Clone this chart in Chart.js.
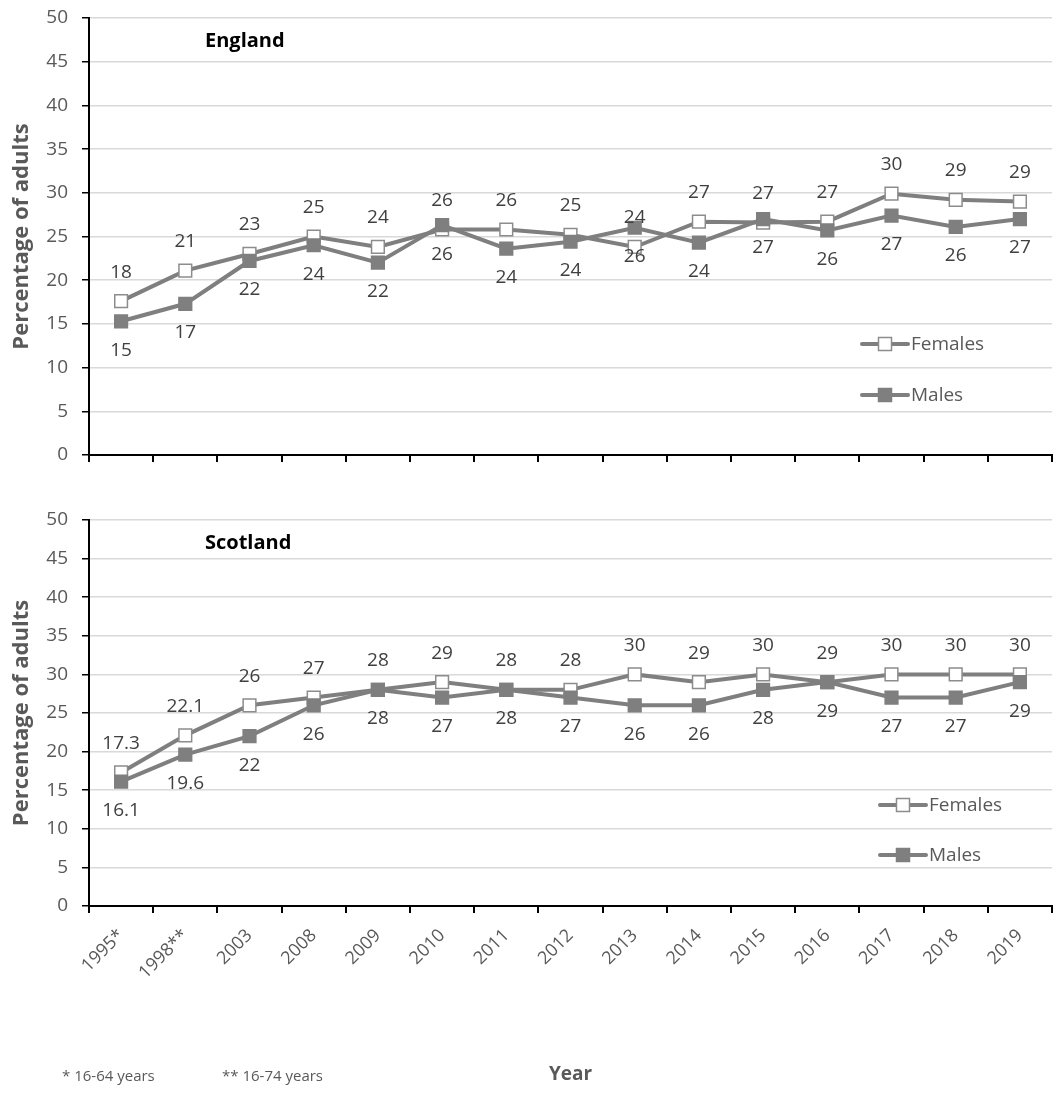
<!DOCTYPE html>
<html lang="en">
<head>
  <meta charset="UTF-8" />
  <title>Percentage of adults, England and Scotland</title>
  <script src="https://cdn.jsdelivr.net/npm/chart.js"></script>
  <style>
    body { margin: 0; background: #fff; font-family: "Open Sans", sans-serif; }
    #wrap { position: relative; width: 1055px; height: 1094px; }
    .box { position: absolute; left: 0; width: 1055px; }
    #topBox { top: 0; height: 470px; }
    #bottomBox { top: 500px; height: 594px; }
    .nation { position: absolute; left: 205px; font-weight: bold; font-size: 20px; line-height: 1.2; color: #000; }
    .note { position: absolute; top: 1066px; font-size: 15px; line-height: 1.2; color: #595959; }
  </style>
</head>
<body>
<div id="wrap">
  <div class="box" id="topBox"><canvas id="englandChart"></canvas></div>
  <div class="box" id="bottomBox"><canvas id="scotlandChart"></canvas></div>
  <div class="nation" style="top:28px">England</div>
  <div class="nation" style="top:530px">Scotland</div>
  <div class="note" style="left:62px">* 16-64 years</div>
  <div class="note" style="left:222px">** 16-74 years</div>
</div>

<script>
  const years = ["1995*", "1998**", "2003", "2008", "2009", "2010", "2011", "2012", "2013", "2014", "2015", "2016", "2017", "2018", "2019"];
  const yTicks = [0, 5, 10, 15, 20, 25, 30, 35, 40, 45, 50];

  // England: plotted at unrounded values, labels show whole numbers
  const englandFemales = [17.6, 21.1, 23.0, 25.0, 23.8, 25.8, 25.8, 25.2, 23.8, 26.7, 26.6, 26.7, 29.9, 29.2, 29.0];
  const englandMales   = [15.3, 17.3, 22.2, 24.0, 22.0, 26.3, 23.6, 24.4, 26.0, 24.3, 27.0, 25.7, 27.4, 26.1, 27.0];

  const scotlandFemales = [17.3, 22.1, 26, 27, 28, 29, 28, 28, 30, 29, 30, 29, 30, 30, 30];
  const scotlandMales   = [16.1, 19.6, 22, 26, 28, 27, 28, 27, 26, 26, 28, 29, 27, 27, 29];

  const GREY = '#7f7f7f';
  const FONT = '"Open Sans", sans-serif';

  // value labels: females above, males below
  const valueLabels = {
    id: 'valueLabels',
    afterDatasetsDraw(chart, args, opts) {
      const ctx = chart.ctx;
      ctx.save();
      ctx.font = '19px ' + FONT;
      ctx.fillStyle = '#404040';
      ctx.textAlign = 'center';
      ctx.textBaseline = 'middle';
      chart.data.datasets.forEach((ds, i) => {
        const meta = chart.getDatasetMeta(i);
        const dy = ds.label === 'Females' ? -29 : 29;
        meta.data.forEach((pt, j) => {
          ctx.fillText(opts.format(ds.data[j]), pt.x, pt.y + dy);
        });
      });
      ctx.restore();
    }
  };

  // legend drawn inside the plot, line + marker + text
  const sideLegend = {
    id: 'sideLegend',
    afterDraw(chart, args, opts) {
      const ctx = chart.ctx;
      ctx.save();
      chart.data.datasets.forEach((ds, i) => {
        const x = opts.x, y = opts.y[i];
        ctx.strokeStyle = ds.borderColor;
        ctx.lineWidth = ds.borderWidth;
        ctx.lineCap = 'round';
        ctx.beginPath();
        ctx.moveTo(x, y);
        ctx.lineTo(x + 46, y);
        ctx.stroke();
        const s = 6.5;
        ctx.fillStyle = ds.pointBackgroundColor;
        ctx.strokeStyle = ds.pointBorderColor;
        ctx.lineWidth = ds.pointBorderWidth;
        ctx.beginPath();
        ctx.rect(x + 23 - s, y - s, 2 * s, 2 * s);
        ctx.fill();
        ctx.stroke();
        ctx.font = '19px ' + FONT;
        ctx.fillStyle = '#595959';
        ctx.textAlign = 'left';
        ctx.textBaseline = 'middle';
        ctx.fillText(ds.label, x + 49, y + 1);
      });
      ctx.restore();
    }
  };

  function makeDatasets(females, males) {
    return [
      {
        label: 'Females', data: females, order: 1,
        borderColor: GREY, borderWidth: 4,
        pointStyle: 'rect', pointRadius: 9, pointHoverRadius: 9,
        pointBackgroundColor: '#ffffff', pointBorderColor: '#8c8c8c', pointBorderWidth: 1.5
      },
      {
        label: 'Males', data: males, order: 0,
        borderColor: GREY, borderWidth: 4,
        pointStyle: 'rect', pointRadius: 9, pointHoverRadius: 9,
        pointBackgroundColor: GREY, pointBorderColor: GREY, pointBorderWidth: 1.5
      }
    ];
  }

  function yScale() {
    return {
      min: 0, max: 50,
      afterBuildTicks(s) { s.ticks = yTicks.map(v => ({ value: v })); },
      ticks: { color: '#595959', font: { size: 19, family: FONT }, padding: 14 },
      grid: { color: '#d9d9d9', lineWidth: 1.5, tickColor: '#000', tickLength: 7 },
      border: { color: '#000', width: 2 },
      title: {
        display: true, text: 'Percentage of adults', color: '#595959',
        font: { size: 22, weight: 'bold', family: FONT }, padding: { top: 9, bottom: 0 }
      },
      afterFit(s) { s.width = 89; s.paddingTop = 0; s.paddingBottom = 0; }
    };
  }

  new Chart(document.getElementById('englandChart'), {
    type: 'line',
    data: { labels: years, datasets: makeDatasets(englandFemales, englandMales) },
    plugins: [valueLabels, sideLegend],
    options: {
      responsive: true, maintainAspectRatio: false, animation: false,
      layout: { autoPadding: false, padding: { top: 18, right: 3, bottom: 0, left: 0 } },
      plugins: {
        legend: { display: false }, tooltip: { enabled: false },
        valueLabels: { format: v => String(Math.round(v)) },
        sideLegend: { x: 862, y: [344, 395] }
      },
      scales: {
        x: {
          offset: true,
          grid: { offset: true, drawOnChartArea: false, tickColor: '#000', tickLength: 7, lineWidth: 2 },
          border: { color: '#000', width: 2 },
          ticks: { display: false },
          afterFit(s) { s.height = 15; }
        },
        y: yScale()
      }
    }
  });

  new Chart(document.getElementById('scotlandChart'), {
    type: 'line',
    data: { labels: years, datasets: makeDatasets(scotlandFemales, scotlandMales) },
    plugins: [valueLabels, sideLegend],
    options: {
      responsive: true, maintainAspectRatio: false, animation: false,
      layout: { autoPadding: false, padding: { top: 20, right: 3, bottom: 8, left: 0 } },
      plugins: {
        legend: { display: false }, tooltip: { enabled: false },
        valueLabels: { format: v => String(v) },
        sideLegend: { x: 880, y: [305, 355] }
      },
      scales: {
        x: {
          offset: true,
          grid: { offset: true, drawOnChartArea: false, tickColor: '#000', tickLength: 7, lineWidth: 2 },
          border: { color: '#000', width: 2 },
          ticks: { color: '#595959', font: { size: 18, family: FONT }, maxRotation: 45, minRotation: 45, padding: 12 },
          title: {
            display: true, text: 'Year', color: '#595959',
            font: { size: 19, weight: 'bold', family: FONT }, padding: { top: 0, bottom: 0 }
          },
          afterFit(s) { s.height = 180; }
        },
        y: yScale()
      }
    }
  });
</script>
</body>
</html>
